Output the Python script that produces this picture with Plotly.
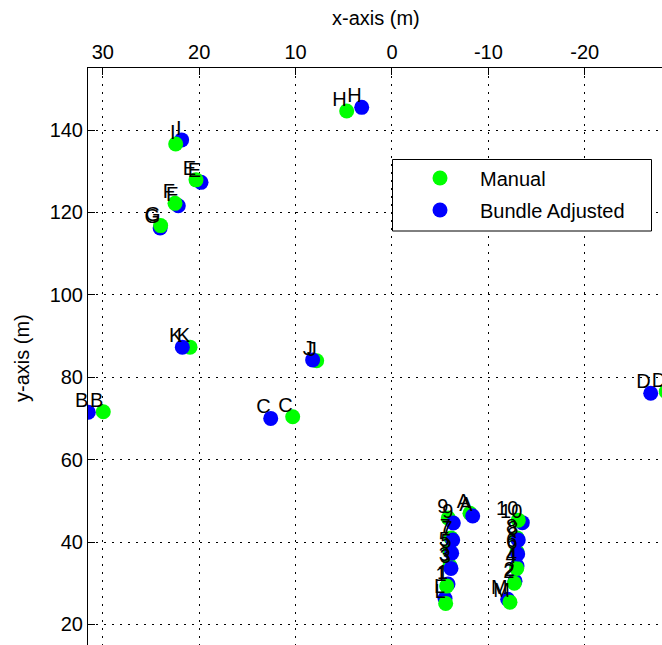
import plotly.graph_objects as go

# ---------------- data ----------------
labels = ["A", "B", "C", "D", "E", "F", "G", "H", "I", "J", "K", "L", "M",
          "1", "2", "3", "4", "5", "6", "7", "8", "9", "10"]

manual_x = [-8.09, 29.95, 10.30, -28.45, 20.33, 22.51, 24.00, 4.70, 22.44, 7.81, 20.95, -5.57, -12.24,
            -5.67, -12.69, -6.01, -12.94, -6.01, -12.97, -6.12, -12.97, -5.84, -13.10]
manual_y = [46.97, 71.6, 70.4, 76.5, 127.9, 122.2, 116.8, 144.6, 136.6, 84.0, 87.3, 25.1, 25.4,
            29.3, 30.0, 34.2, 33.6, 37.8, 37.6, 41.0, 41.0, 45.8, 45.3]

adjusted_x = [-8.37, 31.50, 12.58, -26.84, 19.81, 22.17, 24.05, 3.14, 21.82, 8.23, 21.75, -5.50, -12.00,
              -5.81, -12.76, -6.12, -12.97, -6.19, -13.04, -6.30, -13.10, -6.36, -13.52]
adjusted_y = [46.31, 71.5, 70.0, 76.1, 127.3, 121.6, 116.2, 145.5, 137.6, 84.2, 87.3, 26.3, 26.1,
              29.8, 30.5, 33.6, 34.2, 37.3, 37.1, 40.5, 40.5, 44.6, 44.7]

# points whose "Bundle Adjusted" marker is drawn above the "Manual" one
adjusted_on_top = ["A", "J", "K", "3", "5", "6", "7", "8", "9"]

x_ticks = [30, 20, 10, 0, -10, -20]
x_tick_text = ["30", "20", "10", "0", "-10", "-20"]
y_ticks = [20, 40, 60, 80, 100, 120, 140]
y_tick_text = ["20", "40", "60", "80", "100", "120", "140"]

series_names = ["Manual", "Bundle Adjusted"]
x_title = "x-axis (m)"
y_title = "y-axis (m)"

# ---------------- styling ----------------
GREEN = "#00FF00"
BLUE = "#0000FF"
FONT = "Liberation Sans, Arial, Helvetica, sans-serif"
MSIZE = 15


def subset(xs, ys, keep):
    sx, sy = [], []
    for lab, x, y in zip(labels, xs, ys):
        if keep(lab):
            sx.append(x)
            sy.append(y)
    return sx, sy


fig = go.Figure()

# bottom layer
mx, my = subset(manual_x, manual_y, lambda l: l in adjusted_on_top)
fig.add_trace(go.Scatter(x=mx, y=my, mode="markers", name=series_names[0],
                         legendgroup="manual", showlegend=False,
                         marker=dict(color=GREEN, size=MSIZE, line=dict(width=0))))
ax, ay = subset(adjusted_x, adjusted_y, lambda l: l not in adjusted_on_top)
fig.add_trace(go.Scatter(x=ax, y=ay, mode="markers", name=series_names[1],
                         legendgroup="adjusted", showlegend=False,
                         marker=dict(color=BLUE, size=MSIZE, line=dict(width=0))))
# top layer
mx, my = subset(manual_x, manual_y, lambda l: l not in adjusted_on_top)
fig.add_trace(go.Scatter(x=mx, y=my, mode="markers", name=series_names[0],
                         legendgroup="manual", showlegend=True,
                         marker=dict(color=GREEN, size=MSIZE, line=dict(width=0))))
ax, ay = subset(adjusted_x, adjusted_y, lambda l: l in adjusted_on_top)
fig.add_trace(go.Scatter(x=ax, y=ay, mode="markers", name=series_names[1],
                         legendgroup="adjusted", showlegend=True,
                         marker=dict(color=BLUE, size=MSIZE, line=dict(width=0))))

# point labels
for xs, ys in ((manual_x, manual_y), (adjusted_x, adjusted_y)):
    fig.add_trace(go.Scatter(x=xs, y=ys, mode="text", text=labels,
                             textposition="top left", showlegend=False,
                             hoverinfo="skip", cliponaxis=False,
                             textfont=dict(family=FONT, size=20, color="black")))

# The axes (as in the original figure) run slightly past the visible window;
# the page body margin is removed and overflow hidden so the window crops them.
W, H = 670, 653                  # figure size (window is 662 x 645)
PL, PT = 88, 68                  # plot-area left / top in window pixels
PR, PB = W, H                    # plot-area right / bottom
plot_w, plot_h = PR - PL, PB - PT


def px(xw):
    return (xw - PL) / plot_w


def py(yw):
    return 1 - (yw - PT) / plot_h


axis_common = dict(
    ticks="inside", ticklen=7, tickcolor="black", tickwidth=1,
    showline=True, linecolor="black", linewidth=1, mirror=False,
    showgrid=True, gridcolor="black", gridwidth=1, griddash="1.5px,6.5px",
    zeroline=False, automargin=False,
    tickfont=dict(family=FONT, size=20, color="black"),
)

fig.update_layout(
    width=W, height=H,
    margin=dict(l=PL, r=0, t=PT, b=0, pad=0, autoexpand=False),
    paper_bgcolor="white", plot_bgcolor="white",
    font=dict(family=FONT, size=20, color="black"),
    showlegend=True,
    legend=dict(x=px(400), y=py(158.5),
                xanchor="left", yanchor="top",
                bgcolor="rgba(0,0,0,0)", borderwidth=0,
                font=dict(family=FONT, size=20, color="black"),
                traceorder="grouped", tracegroupgap=3, itemwidth=70),
    xaxis=dict(side="top", range=[31.535, -28.84], tickvals=x_ticks,
               ticktext=x_tick_text, **axis_common),
    yaxis=dict(range=[13.06, 155.05], tickvals=y_ticks, ticktext=y_tick_text,
               **axis_common),
    shapes=[
        dict(type="rect", xref="paper", yref="paper",
             x0=px(392.5), x1=px(651.5), y0=py(231), y1=py(159.5),
             line=dict(color="black", width=1), fillcolor="white", layer="above"),
    ],
    annotations=[
        dict(text=x_title, xref="paper", yref="paper", x=px(376),
             y=py(18), xanchor="center", yanchor="middle",
             showarrow=False, font=dict(family=FONT, size=20, color="black")),
        dict(text=y_title, xref="paper", yref="paper", x=px(22),
             y=py(358), xanchor="center", yanchor="middle",
             textangle=-90, showarrow=False,
             font=dict(family=FONT, size=20, color="black")),
    ],
)

fig.write_html(
    "out.html",
    config={"displayModeBar": False},
    post_script="document.body.style.margin='0px';"
                "document.body.style.overflow='hidden';",
)
